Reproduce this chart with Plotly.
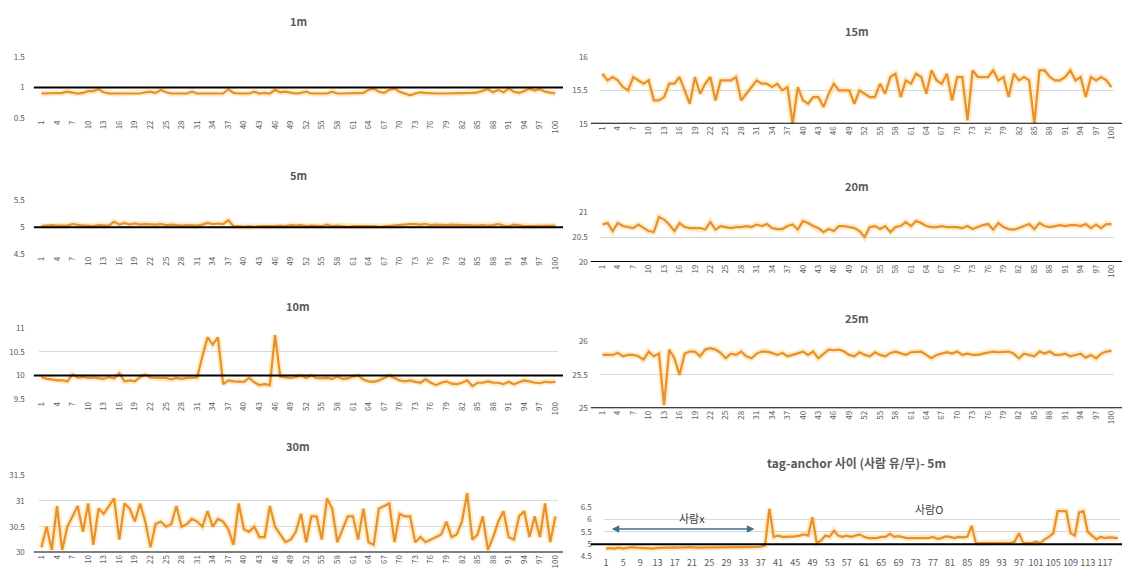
import plotly.graph_objects as go

# ---------------- data ----------------
idx100 = list(range(1, 101))
idx_tag = list(range(1, 121))
ticks100 = list(range(1, 101, 3))
ticks_tag = list(range(1, 120, 4))

titles = ["1m", "5m", "10m", "30m", "15m", "20m", "25m", "tag-anchor 사이 (사람 유/무)- 5m"]

d1m = [0.9, 0.9, 0.9, 0.9, 0.91, 0.93, 0.91, 0.9, 0.91, 0.94,
       0.94, 0.97, 0.92, 0.9, 0.9, 0.9, 0.9, 0.9, 0.9, 0.9,
       0.92, 0.93, 0.91, 0.96, 0.92, 0.9, 0.9, 0.9, 0.9, 0.93,
       0.9, 0.9, 0.9, 0.9, 0.9, 0.9, 0.97, 0.91, 0.9, 0.9,
       0.9, 0.93, 0.9, 0.91, 0.9, 0.96, 0.92, 0.93, 0.92, 0.9,
       0.91, 0.93, 0.9, 0.9, 0.9, 0.9, 0.93, 0.9, 0.9, 0.9,
       0.9, 0.9, 0.91, 0.96, 0.98, 0.93, 0.91, 0.96, 0.98, 0.93,
       0.9, 0.87, 0.9, 0.92, 0.91, 0.9, 0.9, 0.9, 0.9, 0.9,
       0.9, 0.9, 0.9, 0.91, 0.92, 0.94, 0.97, 0.92, 0.96, 0.92,
       0.98, 0.93, 0.91, 0.94, 0.98, 0.95, 0.97, 0.93, 0.91, 0.9]

d5m = [5.02, 5.03, 5.04, 5.03, 5.03, 5.03, 5.06, 5.04, 5.03, 5.03,
       5.02, 5.04, 5.03, 5.03, 5.1, 5.05, 5.08, 5.05, 5.07, 5.05,
       5.06, 5.05, 5.05, 5.06, 5.04, 5.05, 5.04, 5.03, 5.04, 5.03,
       5.03, 5.05, 5.08, 5.06, 5.07, 5.06, 5.13, 5.02, 5.01, 5.01,
       5.02, 5.01, 5.02, 5.02, 5.01, 5.02, 5.03, 5.02, 5.04, 5.03,
       5.04, 5.02, 5.03, 5.02, 5.02, 5.05, 5.02, 5.03, 5.02, 5.01,
       5.02, 5.02, 5.03, 5.02, 5.02, 5.01, 5.02, 5.02, 5.03, 5.04,
       5.05, 5.06, 5.06, 5.05, 5.06, 5.04, 5.05, 5.04, 5.04, 5.05,
       5.04, 5.04, 5.04, 5.03, 5.03, 5.04, 5.03, 5.04, 5.06, 5.03,
       5.02, 5.05, 5.03, 5.02, 5.02, 5.02, 5.02, 5.02, 5.02, 5.03]

d10m = [9.97, 9.93, 9.92, 9.9, 9.9, 9.88, 10.02, 9.96, 9.97, 9.95,
        9.96, 9.95, 9.93, 9.97, 9.94, 10.05, 9.88, 9.9, 9.88, 9.97,
        10.02, 9.96, 9.95, 9.95, 9.95, 9.92, 9.95, 9.93, 9.95, 9.96,
        9.96, 10.4, 10.8, 10.65, 10.8, 9.82, 9.9, 9.88, 9.87, 9.87,
        9.95, 9.86, 9.8, 9.82, 9.8, 10.85, 9.98, 9.96, 9.95, 9.97,
        10.0, 9.95, 10.0, 9.95, 9.94, 9.95, 9.93, 9.98, 9.93, 9.94,
        9.98, 10.0, 9.92, 9.88, 9.87, 9.9, 9.95, 10.0, 9.95, 9.9,
        9.88, 9.9, 9.87, 9.85, 9.92, 9.85, 9.8, 9.85, 9.88, 9.83,
        9.82, 9.85, 9.9, 9.78, 9.85, 9.85, 9.88, 9.85, 9.85, 9.82,
        9.87, 9.82, 9.86, 9.9, 9.88, 9.85, 9.84, 9.87, 9.86, 9.87]

d30m = [30.1, 30.5, 30.05, 30.9, 30.05, 30.5, 30.7, 30.9, 30.4, 30.95,
        30.15, 30.85, 30.75, 30.9, 31.05, 30.25, 30.95, 30.85, 30.6, 30.95,
        30.6, 30.1, 30.55, 30.6, 30.5, 30.55, 30.9, 30.5, 30.55, 30.65,
        30.6, 30.5, 30.8, 30.5, 30.65, 30.6, 30.45, 30.15, 30.95, 30.45,
        30.4, 30.5, 30.3, 30.3, 30.9, 30.5, 30.35, 30.2, 30.25, 30.4,
        30.75, 30.2, 30.7, 30.7, 30.25, 31.05, 30.85, 30.2, 30.45, 30.7,
        30.7, 30.25, 30.85, 30.2, 30.15, 30.85, 30.9, 30.95, 30.2, 30.75,
        30.7, 30.7, 30.2, 30.3, 30.2, 30.25, 30.3, 30.35, 30.6, 30.3,
        30.35, 30.6, 31.15, 30.25, 30.35, 30.7, 30.05, 30.3, 30.6, 30.8,
        30.3, 30.25, 30.7, 30.8, 30.3, 30.7, 30.3, 30.95, 30.2, 30.7]

d15m = [15.75, 15.65, 15.7, 15.65, 15.55, 15.5, 15.7, 15.65, 15.6, 15.65,
        15.35, 15.35, 15.4, 15.6, 15.6, 15.7, 15.5, 15.3, 15.7, 15.45,
        15.6, 15.7, 15.35, 15.65, 15.65, 15.65, 15.7, 15.35, 15.45, 15.55,
        15.65, 15.6, 15.6, 15.55, 15.6, 15.5, 15.55, 15.0, 15.55, 15.35,
        15.3, 15.4, 15.4, 15.25, 15.45, 15.6, 15.5, 15.5, 15.5, 15.3,
        15.5, 15.45, 15.4, 15.4, 15.6, 15.45, 15.7, 15.75, 15.4, 15.65,
        15.6, 15.75, 15.7, 15.45, 15.8, 15.65, 15.6, 15.75, 15.35, 15.7,
        15.7, 15.05, 15.8, 15.7, 15.7, 15.7, 15.8, 15.65, 15.7, 15.4,
        15.75, 15.65, 15.7, 15.65, 15.0, 15.8, 15.8, 15.7, 15.65, 15.65,
        15.7, 15.8, 15.65, 15.7, 15.4, 15.7, 15.65, 15.7, 15.65, 15.55]

d20m = [20.75, 20.78, 20.62, 20.78, 20.72, 20.7, 20.68, 20.75, 20.68, 20.62,
        20.6, 20.9, 20.85, 20.75, 20.62, 20.78, 20.7, 20.68, 20.68, 20.68,
        20.65, 20.8, 20.65, 20.72, 20.7, 20.68, 20.7, 20.7, 20.72, 20.7,
        20.75, 20.72, 20.76, 20.68, 20.66, 20.66, 20.72, 20.75, 20.65, 20.82,
        20.78, 20.72, 20.68, 20.6, 20.66, 20.62, 20.72, 20.72, 20.7, 20.68,
        20.62, 20.5, 20.7, 20.72, 20.66, 20.72, 20.6, 20.7, 20.72, 20.8,
        20.72, 20.82, 20.78, 20.72, 20.7, 20.7, 20.72, 20.7, 20.7, 20.7,
        20.68, 20.72, 20.66, 20.7, 20.74, 20.76, 20.65, 20.78, 20.7, 20.66,
        20.65, 20.68, 20.72, 20.76, 20.66, 20.78, 20.72, 20.7, 20.72, 20.74,
        20.72, 20.74, 20.74, 20.72, 20.76, 20.68, 20.75, 20.68, 20.76, 20.76]

d25m = [25.8, 25.8, 25.8, 25.83, 25.78, 25.8, 25.8, 25.78, 25.73, 25.85,
        25.78, 25.82, 25.05, 25.88, 25.75, 25.5, 25.82, 25.85, 25.85, 25.78,
        25.88, 25.9, 25.88, 25.83, 25.75, 25.82, 25.8, 25.85, 25.78, 25.75,
        25.82, 25.85, 25.85, 25.83, 25.8, 25.83, 25.78, 25.8, 25.82, 25.85,
        25.8, 25.85, 25.75, 25.82, 25.88, 25.87, 25.88, 25.85, 25.8, 25.78,
        25.84, 25.8, 25.78, 25.84, 25.8, 25.78, 25.83, 25.85, 25.82, 25.8,
        25.84, 25.85, 25.85, 25.8, 25.75, 25.8, 25.82, 25.84, 25.82, 25.85,
        25.8, 25.82, 25.8, 25.8, 25.82, 25.84, 25.85, 25.84, 25.84, 25.85,
        25.82, 25.75, 25.82, 25.8, 25.78, 25.85, 25.82, 25.85, 25.8, 25.8,
        25.82, 25.78, 25.8, 25.82, 25.76, 25.8, 25.75, 25.82, 25.85, 25.86]

d_tag = [4.82, 4.84, 4.82, 4.86, 4.82, 4.85, 4.88, 4.86, 4.85, 4.82,
         4.8, 4.82, 4.85, 4.86, 4.86, 4.87, 4.87, 4.86, 4.87, 4.87,
         4.88, 4.86, 4.86, 4.87, 4.87, 4.88, 4.87, 4.87, 4.88, 4.87,
         4.87, 4.88, 4.87, 4.88, 4.88, 4.89, 4.9, 4.95, 6.45, 5.3,
         5.35, 5.3, 5.3, 5.3, 5.32, 5.35, 5.4, 5.35, 6.1, 5.05,
         5.15, 5.35, 5.3, 5.55, 5.35, 5.3, 5.35, 5.3, 5.35, 5.4,
         5.3, 5.25, 5.25, 5.25, 5.3, 5.3, 5.42, 5.3, 5.33, 5.28,
         5.25, 5.25, 5.25, 5.25, 5.25, 5.25, 5.3, 5.22, 5.25, 5.32,
         5.3, 5.25, 5.3, 5.28, 5.3, 5.75, 5.05, 5.05, 5.05, 5.05,
         5.05, 5.05, 5.05, 5.05, 5.05, 5.1, 5.45, 5.05, 5.05, 5.05,
         5.1, 5.05, 5.2, 5.3, 5.45, 6.35, 6.35, 6.35, 5.45, 5.35,
         6.3, 6.35, 5.5, 5.35, 5.2, 5.3, 5.25, 5.28, 5.25, 5.25]

# ---------------- layout helpers ----------------
W, H = 1124, 586
LINE = "#E8902C"
GLOW = "rgba(255,205,110,0.40)"
GRID = "#D9D9D9"
TXT = "#595959"
FONT = "Noto Sans CJK KR"

def xd(a, b):
    return [a / W, b / W]

def yd(top, bottom):
    return [1 - bottom / H, 1 - top / H]

LEFT = (35, 557)
RIGHT = (599, 1116)
RIGHT_TAG = (603, 1122)

panels = [
    # title, x, y, yrange, col, (top,bottom), title_y, baseline, xticks, tickangle
    (titles[0], idx100, d1m, [0.5, 1.5], LEFT, (52, 114), 15, 1.0, ticks100, -90),
    (titles[1], idx100, d5m, [4.5, 5.5], LEFT, (198, 253), 172, 5.0, ticks100, -90),
    (titles[2], idx100, d10m, [9.5, 11.0], LEFT, (328, 401), 306, 10.0, ticks100, -90),
    (titles[3], idx100, d30m, [30.0, 31.5], LEFT, (478, 557), 448, 30.0, ticks100, -90),
    (titles[4], idx100, d15m, [15.0, 16.0], RIGHT, (52, 120), 25, 15.0, ticks100, -90),
    (titles[5], idx100, d20m, [20.0, 21.0], RIGHT, (210, 261), 183, 20.0, ticks100, -90),
    (titles[6], idx100, d25m, [25.0, 26.0], RIGHT, (342, 410), 318, 25.0, ticks100, -90),
    (titles[7], idx_tag, d_tag, [4.5, 6.5], RIGHT_TAG, (511, 561), 465, 5.0, ticks_tag, 0),
]

fig = go.Figure()
shapes = []
annotations = []
layout = dict(
    width=W, height=H,
    margin=dict(l=0, r=0, t=0, b=0),
    paper_bgcolor="white", plot_bgcolor="white",
    showlegend=False,
    font=dict(family=FONT, color=TXT, size=8),
)

for i, (title, xs, ys, yr, col, (top, bot), ty, base, xt, ta) in enumerate(panels):
    n = i + 1
    xa = "x" if n == 1 else f"x{n}"
    ya = "y" if n == 1 else f"y{n}"
    xkey = "xaxis" if n == 1 else f"xaxis{n}"
    ykey = "yaxis" if n == 1 else f"yaxis{n}"

    fig.add_trace(go.Scatter(x=xs, y=ys, xaxis=xa, yaxis=ya, mode="lines",
                             line=dict(color=GLOW, width=6), hoverinfo="skip"))
    fig.add_trace(go.Scatter(x=xs, y=ys, xaxis=xa, yaxis=ya, mode="lines",
                             line=dict(color=LINE, width=2.2)))

    layout[xkey] = dict(
        domain=xd(*col), anchor=ya, range=[0.5, len(xs) + 0.5],
        showgrid=False, zeroline=False, showline=False,
        tickmode="array", tickvals=xt, ticktext=[str(v) for v in xt],
        tickangle=ta, tickfont=dict(size=8 if ta else 9, color=TXT),
        ticklabeloverflow="allow", ticks="", fixedrange=True,
    )
    is_left = col is LEFT
    layout[ykey] = dict(
        domain=yd(top, bot), anchor=xa, range=yr, dtick=0.5, tick0=0,
        showgrid=True, gridcolor=GRID, gridwidth=1, zeroline=False,
        showline=False, ticks="", tickfont=dict(size=8, color=TXT),
        ticklabelstandoff=13 if is_left else 11, fixedrange=True,
    )

    x0 = col[0] - 5 if is_left else 590
    x1 = col[1] + 5 if is_left else W
    shapes.append(dict(type="line", xref="paper", yref=ya, x0=x0 / W, x1=x1 / W,
                       y0=base, y1=base, line=dict(color="black", width=2)))

    cx = (LEFT[0] + LEFT[1]) / 2 if is_left else (RIGHT[0] + RIGHT[1]) / 2
    annotations.append(dict(
        text=f"<b>{title}</b>", xref="paper", yref="paper",
        x=cx / W, y=1 - ty / H, showarrow=False, xanchor="center", yanchor="middle",
        font=dict(size=12 if n == 8 else 11, color=TXT, family=FONT),
    ))

# arrow and labels in tag panel
annotations.append(dict(
    xref="x8", yref="y8", axref="x8", ayref="y8",
    x=35.5, y=5.62, ax=2, ay=5.62, text="", showarrow=True,
    arrowhead=2, startarrowhead=2, arrowside="end+start",
    arrowsize=1, arrowwidth=1.5, arrowcolor="#3E7096",
))
annotations.append(dict(
    xref="x8", yref="y8", x=21, y=6.05, text="사람x", showarrow=False,
    font=dict(size=11, color="#404040", family=FONT),
))
annotations.append(dict(
    xref="x8", yref="y8", x=76, y=6.42, text="사람O", showarrow=False,
    font=dict(size=11, color="#404040", family=FONT),
))

layout["shapes"] = shapes
layout["annotations"] = annotations
fig.update_layout(**layout)

fig.write_html(
    "out.html",
    config={"displayModeBar": False},
    post_script=(
        "document.documentElement.style.overflow='hidden';"
        "document.body.style.margin='0';document.body.style.overflow='hidden';"
        "var gd=document.getElementById('{plot_id}');"
        "gd.style.position='fixed';gd.style.top='0px';gd.style.left='0px';"
    ),
)
